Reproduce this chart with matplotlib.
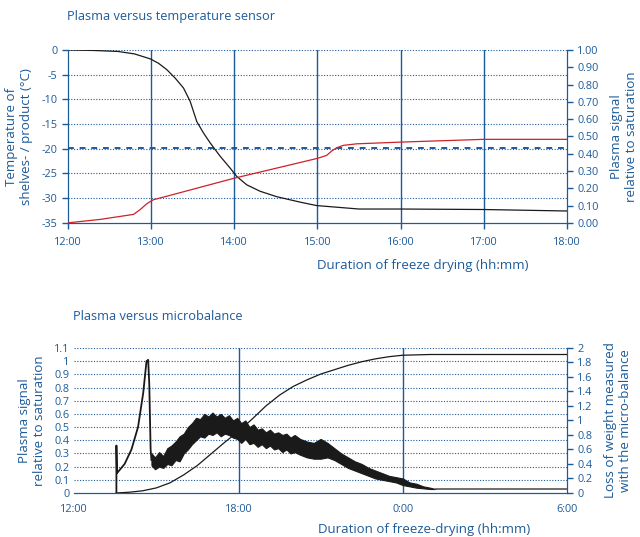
import matplotlib.pyplot as plt

BLUE = '#1c5b9a'
plt.rcParams['font.family'] = ['Open Sans', 'DejaVu Sans']
plt.rcParams['axes.unicode_minus'] = False

# --- top chart: hours after 12:00 ---
temp_t = [0.0, 0.3, 0.6, 0.8, 0.99, 1.09, 1.19, 1.29, 1.39, 1.47, 1.55, 1.63, 1.71, 1.83, 1.95,
          2.03, 2.15, 2.31, 2.51, 2.79, 2.99, 3.5, 4.0, 5.0, 6.0]
temp_v = [0.0, -0.1, -0.3, -0.8, -1.8, -2.7, -4.0, -5.7, -7.7, -10.4, -14.5, -16.8, -18.8, -21.5, -23.9,
          -25.6, -27.3, -28.6, -29.7, -30.8, -31.5, -32.2, -32.2, -32.3, -32.6]

plasma_t = [0.0, 0.39, 0.79, 0.87, 0.95, 1.03, 1.19, 1.99, 3.0, 3.11, 3.17, 3.23, 3.31, 3.47, 4.0, 5.0, 6.0]
plasma_v = [0.0, 0.02, 0.049, 0.077, 0.111, 0.134, 0.154, 0.257, 0.373, 0.39, 0.415, 0.434, 0.448,
            0.457, 0.467, 0.483, 0.483]

threshold_temp = -19.8
top_ticks = [0, 1, 2, 3, 4, 5, 6]
top_labels = ['12:00', '13:00', '14:00', '15:00', '16:00', '17:00', '18:00']

# --- bottom chart: hours after 12:00 ---
rise_t = [1.54, 1.54, 1.56, 1.6, 1.84, 2.09, 2.33, 2.52, 2.64, 2.70, 2.74, 2.79, 2.82]
rise_v = [0.0, 0.36, 0.15, 0.16, 0.22, 0.33, 0.50, 0.76, 1.0, 1.01, 0.83, 0.33, 0.25]

band_t = [2.82, 2.95, 3.1, 3.25, 3.4, 3.55, 3.7, 3.85, 4.0, 4.15, 4.3, 4.45, 4.6, 4.75, 4.9, 5.05,
          5.2, 5.35, 5.5, 5.65, 5.8, 5.95, 6.1, 6.25, 6.4, 6.55, 6.7, 6.85, 7.0, 7.15, 7.3, 7.45,
          7.6, 7.75, 7.9, 8.05, 8.25, 8.5, 8.75, 9.0, 9.25, 9.5, 9.75, 10.0, 10.25, 10.5, 10.75,
          11.0, 11.25, 11.5, 11.75, 12.0, 12.25, 12.5, 12.75, 13.0, 13.2]
band_lo = [0.21, 0.18, 0.20, 0.19, 0.22, 0.21, 0.25, 0.24, 0.30, 0.33, 0.37, 0.40, 0.43, 0.42, 0.45, 0.44,
           0.46, 0.43, 0.45, 0.44, 0.42, 0.41, 0.38, 0.41, 0.37, 0.38, 0.35, 0.37, 0.34, 0.36, 0.33, 0.34,
           0.31, 0.33, 0.30, 0.31, 0.29, 0.27, 0.26, 0.26, 0.27, 0.25, 0.22, 0.19, 0.17, 0.15, 0.13,
           0.11, 0.10, 0.09, 0.08, 0.06, 0.05, 0.04, 0.035, 0.03, 0.03]
band_hi = [0.30, 0.27, 0.31, 0.28, 0.34, 0.36, 0.39, 0.43, 0.45, 0.50, 0.53, 0.57, 0.56, 0.60, 0.58, 0.61,
           0.58, 0.60, 0.57, 0.59, 0.55, 0.57, 0.53, 0.55, 0.50, 0.52, 0.48, 0.49, 0.46, 0.48, 0.45, 0.46,
           0.44, 0.45, 0.42, 0.44, 0.41, 0.39, 0.38, 0.41, 0.38, 0.34, 0.30, 0.27, 0.24, 0.22, 0.19,
           0.17, 0.15, 0.13, 0.12, 0.11, 0.08, 0.07, 0.05, 0.04, 0.03]

tail_t = [13.2, 18.0]
tail_v = [0.03, 0.03]

weight_t = [1.54, 2.0, 2.5, 3.0, 3.5, 4.0, 4.5, 5.0, 5.5, 6.0, 6.5, 7.0, 7.5, 8.0, 8.5, 9.0, 9.5,
            10.0, 10.5, 11.0, 11.5, 12.0, 13.0, 18.0]
weight_v = [0.0, 0.01, 0.03, 0.07, 0.14, 0.25, 0.38, 0.54, 0.70, 0.85, 1.02, 1.20, 1.35, 1.47, 1.56,
            1.64, 1.70, 1.76, 1.81, 1.85, 1.88, 1.90, 1.91, 1.91]

bot_ticks = [0, 6, 12, 18]
bot_labels = ['12:00', '18:00', '0:00', '6:00']


fig = plt.figure(figsize=(6.4, 5.37), dpi=100)


def style_axis(ax):
    ax.tick_params(colors=BLUE, labelcolor=BLUE, labelsize=7.8, length=4, width=1)
    for side in ax.spines:
        ax.spines[side].set_color(BLUE)


# top chart
ax1 = fig.add_axes([0.106, 0.585, 0.78, 0.322])
ax1.set_xlim(0, 6)
ax1.set_ylim(-35, 0)
ax1.set_yticks(range(-35, 1, 5))
ax1.set_xticks(top_ticks)
ax1.set_xticklabels(top_labels)
for y in range(-30, 1, 5):
    ax1.axhline(y, color=BLUE, lw=0.8, ls=(0, (1, 1.5)), zorder=1)
for x in top_ticks[1:-1]:
    ax1.axvline(x, color=BLUE, lw=1, zorder=1)
ax1.axhline(threshold_temp, color=BLUE, lw=1.4, ls=(0, (3, 3)), zorder=2)
ax1.plot(temp_t, temp_v, color='#1a1a1a', lw=0.9, zorder=3)
ax1.spines['top'].set_visible(False)
style_axis(ax1)
ax1.tick_params(axis='x', pad=6)
ax1.set_ylabel('Temperature of\nshelves- / product (°C)', color=BLUE, fontsize=9.6, labelpad=6)
ax1.set_xlabel('Duration of freeze drying (hh:mm)', color=BLUE, fontsize=9.5)
ax1.xaxis.set_label_coords(0.71, -0.21)

ax1r = ax1.twinx()
ax1r.set_ylim(0, 1)
ax1r.set_yticks([i / 10 for i in range(11)])
ax1r.set_yticklabels(['%.2f' % (i / 10) for i in range(11)])
ax1r.plot(plasma_t, plasma_v, color='#cc2229', lw=0.9, zorder=3)
ax1r.spines['top'].set_visible(False)
style_axis(ax1r)
ax1r.set_ylabel('Plasma signal\nrelative to saturation', color=BLUE, fontsize=9.6, labelpad=8)
fig.text(0.105, 0.962, 'Plasma versus temperature sensor', color=BLUE, fontsize=9.2)

# bottom chart
ax2 = fig.add_axes([0.116, 0.082, 0.77, 0.27])
ax2.set_xlim(0, 18)
ax2.set_ylim(0, 1.1)
ax2.set_yticks([i / 10 for i in range(12)])
ax2.set_yticklabels(['0', '0.1', '0.2', '0.3', '0.4', '0.5', '0.6', '0.7', '0.8', '0.9', '1', '1.1'])
ax2.set_xticks(bot_ticks)
ax2.set_xticklabels(bot_labels)
for i in range(1, 12):
    ax2.axhline(i / 10, color=BLUE, lw=0.8, ls=(0, (1, 1.5)), zorder=1)
for x in bot_ticks[1:-1]:
    ax2.axvline(x, color=BLUE, lw=1, zorder=1)
ax2.plot(rise_t, rise_v, color='#1a1a1a', lw=1.3, zorder=3)
ax2.fill_between(band_t, band_lo, band_hi, color='#1a1a1a', lw=0.8, zorder=3)
ax2.plot(tail_t, tail_v, color='#555555', lw=1.2, zorder=3)
ax2.spines['top'].set_visible(False)
ax2.spines['left'].set_visible(False)
style_axis(ax2)
ax2.tick_params(axis='y', length=0)
ax2.tick_params(axis='x', length=0, pad=8)
ax2.set_ylabel('Plasma signal\nrelative to saturation', color=BLUE, fontsize=9.6, labelpad=6)
ax2.set_xlabel('Duration of freeze-drying (hh:mm)', color=BLUE, fontsize=9.5)
ax2.xaxis.set_label_coords(0.71, -0.205)

ax2r = ax2.twinx()
ax2r.set_ylim(0, 2)
ax2r.set_yticks([i / 5 for i in range(11)])
ax2r.set_yticklabels(['0', '0.2', '0.4', '0.6', '0.8', '1', '1.2', '1.4', '1.6', '1.8', '2'])
ax2r.plot(weight_t, weight_v, color='#1a1a1a', lw=0.9, zorder=3)
ax2r.spines['top'].set_visible(False)
ax2r.spines['left'].set_visible(False)
style_axis(ax2r)
ax2r.set_ylabel('Loss of weight measured\nwith the micro-balance', color=BLUE, fontsize=9.6, labelpad=8)
fig.text(0.114, 0.404, 'Plasma versus microbalance', color=BLUE, fontsize=9.2)

fig.savefig('out.png', dpi=100)
